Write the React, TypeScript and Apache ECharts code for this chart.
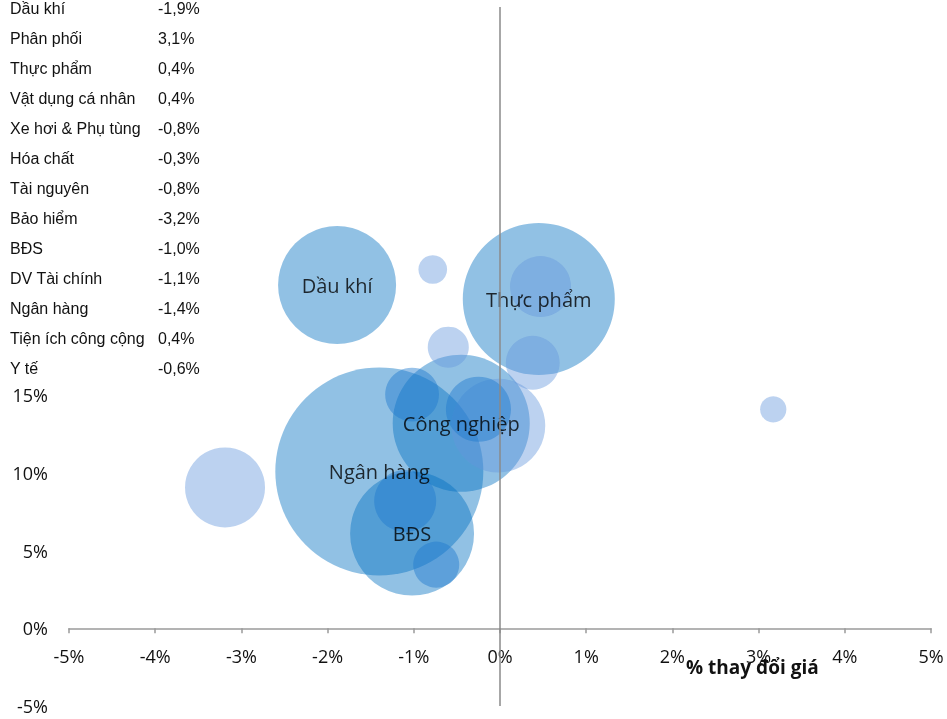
import React, { useEffect, useRef } from "react";
import * as echarts from "echarts";

// Bubble data
const sectorNames = [
  "Ngân hàng", "Thực phẩm", "Công nghiệp", "BĐS", "Dầu khí", "Ngành A",
  "Bảo hiểm", "Hóa chất", "DV Tài chính", "Vật dụng cá nhân", "Ngành B",
  "Tiện ích công cộng", "Tài nguyên", "Y tế", "Xe hơi & Phụ tùng", "Phân phối",
];
const priceChange = [-1.4, 0.45, -0.45, -1.02, -1.89, -0.02, -3.19, -0.25, -1.1, 0.47, -1.02, 0.38, -0.74, -0.6, -0.78, 3.17];
const yValues = [10.1, 21.2, 13.2, 6.1, 22.1, 13.05, 9.07, 14.1, 8.2, 22.0, 15.05, 17.1, 4.1, 18.1, 23.1, 14.1];
const bubbleSizes = [100, 53.4, 43.4, 35.5, 32.2, 20.4, 14.8, 9.8, 8.9, 8.6, 6.7, 6.7, 4.9, 3.9, 1.9, 1.6];
const tones = ["mid", "mid", "mid", "mid", "mid", "light", "light", "dark", "dark", "light", "dark", "light", "dark", "light", "light", "light"];
const labeled = ["Ngân hàng", "Thực phẩm", "Công nghiệp", "BĐS", "Dầu khí"];

// Table data
const tableNames = [
  "Dầu khí", "Phân phối", "Thực phẩm", "Vật dụng cá nhân", "Xe hơi & Phụ tùng", "Hóa chất",
  "Tài nguyên", "Bảo hiểm", "BĐS", "DV Tài chính", "Ngân hàng", "Tiện ích công cộng", "Y tế",
];
const tableValues = ["-1,9%", "3,1%", "0,4%", "0,4%", "-0,8%", "-0,3%", "-0,8%", "-3,2%", "-1,0%", "-1,1%", "-1,4%", "0,4%", "-0,6%"];

const toneColor: Record<string, string> = {
  mid: "rgba(0,112,192,0.54)",
  light: "rgba(100,150,220,0.54)",
  dark: "rgba(30,120,205,0.56)",
};

const W = 947;
const H = 719;
const GRID_TOP = 7;
const GRID_BOTTOM = 13;
const Y_MIN = -5;
const Y_MAX = 40;

export default function App() {
  const ref = useRef<HTMLDivElement>(null);
  useEffect(() => {
    if (!ref.current) return;
    const chart = echarts.init(ref.current, null, { renderer: "svg" });
    const gridH = H - GRID_TOP - GRID_BOTTOM;
    const zeroOffset = -gridH * (0 - Y_MIN) / (Y_MAX - Y_MIN);
    const data = sectorNames.map((n, i) => ({
      name: n,
      value: [priceChange[i], yValues[i], bubbleSizes[i]],
      itemStyle: { color: toneColor[tones[i]] },
      label: { show: labeled.includes(n) },
    }));
    const tableGraphics: any[] = [];
    tableNames.forEach((n, i) => {
      const y = 8 + i * 30;
      tableGraphics.push({
        type: "text",
        x: 10,
        y,
        style: { text: n, fontSize: 16, fontFamily: "Liberation Sans", fill: "#111", verticalAlign: "middle" },
      });
      tableGraphics.push({
        type: "text",
        x: 158,
        y,
        style: { text: tableValues[i], fontSize: 16, fontFamily: "Liberation Sans", fill: "#111", verticalAlign: "middle" },
      });
    });
    chart.setOption({
      animation: false,
      grid: { left: 69, right: 16, top: GRID_TOP, bottom: GRID_BOTTOM, containLabel: false, outerBoundsMode: "none" },
      xAxis: {
        type: "value",
        min: -5,
        max: 5,
        interval: 1,
        offset: zeroOffset,
        axisLine: { onZero: false, lineStyle: { color: "#9a9a9a", width: 1.5 } },
        axisTick: { show: true, length: 5, lineStyle: { color: "#9a9a9a", width: 1.5 } },
        axisLabel: {
          margin: 19,
          fontSize: 18,
          fontFamily: "Open Sans",
          color: "#111",
          formatter: (v: number) => `${v}%`,
        },
        splitLine: { show: false },
      },
      yAxis: {
        type: "value",
        min: Y_MIN,
        max: Y_MAX,
        interval: 5,
        axisLine: { show: false, onZero: false },
        axisTick: { show: false },
        axisLabel: {
          margin: 21,
          fontSize: 18,
          fontFamily: "Open Sans",
          color: "#111",
          formatter: (v: number) => (v <= 15 ? `${v}%` : ""),
        },
        splitLine: { show: false },
      },
      graphic: [
        ...tableGraphics,
        {
          type: "text",
          x: 686,
          y: 667,
          style: { text: "% thay đổi giá", fontSize: 19, fontWeight: "bold", fontFamily: "Open Sans", fill: "#111", verticalAlign: "middle" },
        },
      ],
      series: [
        {
          type: "scatter",
          data,
          symbolSize: (val: number[]) => 20.8 * Math.sqrt(val[2]),
          label: {
            position: "inside",
            formatter: "{b}",
            fontSize: 20,
            fontFamily: "Open Sans",
            color: "#000",
          },
          markLine: {
            silent: true,
            symbol: "none",
            label: { show: false },
            lineStyle: { color: "#8a8a8a", width: 1.5, type: "solid" },
            data: [{ xAxis: 0 }],
          },
        },
      ],
    });
    return () => chart.dispose();
  }, []);
  return <div ref={ref} style={{ position: "fixed", left: 0, top: 0, width: W, height: H }} />;
}
